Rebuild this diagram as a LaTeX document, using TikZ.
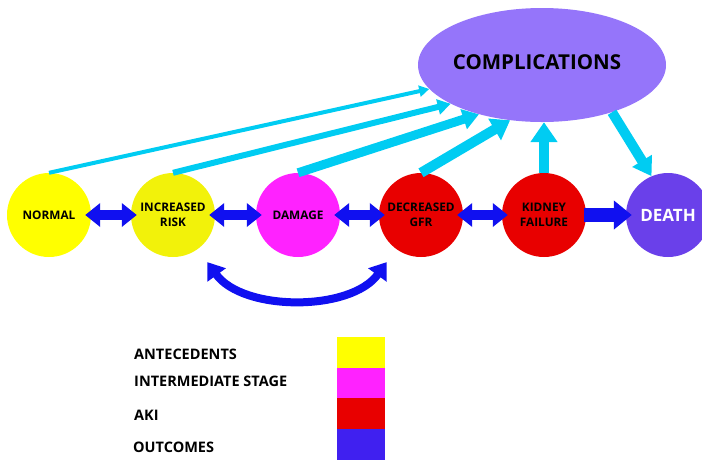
\documentclass[tikz,border=0pt]{standalone}
\usepackage{fontspec}
\setmainfont{Open Sans}
\usetikzlibrary{arrows.meta,shapes.geometric}
\definecolor{cyel}{HTML}{FFFF00}
\definecolor{cyel2}{HTML}{F2F20A}
\definecolor{cmag}{HTML}{FF22FF}
\definecolor{cred}{HTML}{E80000}
\definecolor{cdeath}{HTML}{6A40EA}
\definecolor{cout}{HTML}{4020F0}
\definecolor{cellip}{HTML}{9575FA}
\definecolor{ccyan}{HTML}{00CCF2}
\definecolor{cblue}{HTML}{1010F0}
\begin{document}
\begin{tikzpicture}[x=1pt,y=-1pt,
  stage/.style={circle, minimum size=84pt, inner sep=0pt, align=center,
    font=\bfseries\fontsize{11.8}{14.5}\selectfont},
  dbl/.style={draw=cblue, line width=10pt,
    {Triangle[length=15pt,width=23pt]}-{Triangle[length=15pt,width=23pt]},
    shorten <=-6pt, shorten >=-6pt},
  cyarrow/.style n args={3}{draw=ccyan, line width=#1,
    -{Triangle[length=#2,width=#3]}},
  legtext/.style={anchor=west, inner sep=0pt, font=\bfseries\fontsize{14.5}{17}\selectfont},
  legbox/.style={anchor=north west, inner sep=0pt, minimum width=48pt, minimum height=#1}
]
\useasboundingbox (0,0) rectangle (702,459);

% complications
\node[ellipse, fill=cellip, minimum width=248pt, minimum height=114pt, inner sep=0pt] (comp) at (542,65) {};
\node[font=\bfseries\fontsize{20.5}{24}\selectfont] (comptext) at (537,62) {COMPLICATIONS};

% stages
\node[stage, fill=cyel] (normal) at (49,215) {NORMAL};
\node[stage, fill=cyel2] (inc) at (173,215) {INCREASED\\RISK};
\node[stage, fill=cmag] (dam) at (298,215) {DAMAGE};
\node[stage, fill=cred] (gfr) at (421,215) {DECREASED\\GFR};
\node[stage, fill=cred] (kid) at (544,215) {KIDNEY\\FAILURE};
\node[stage, fill=cdeath, text=white, font=\bfseries\fontsize{17}{20}\selectfont] (death) at (668,215) {DEATH};

% blue double arrows
\draw[dbl] (normal.east) -- (inc.west);
\draw[dbl] (inc.east) -- (dam.west);
\draw[dbl] (dam.east) -- (gfr.west);
\draw[dbl] (gfr.east) -- (kid.west);
\draw[draw=cblue, line width=14pt, -{Triangle[length=18pt,width=28pt]},
  shorten <=-2pt, shorten >=-6pt] (kid.east) -- (death.west);

% curved arrow
\draw[draw=cblue, line width=8pt,
  {Triangle[length=16pt,width=22pt]}-{Triangle[length=16pt,width=22pt]},
  shorten <=16pt, shorten >=16pt]
  (inc.-54) to[out=-54, in=-126] (gfr.-126);

% cyan arrows to complications
\draw[cyarrow={4pt}{10pt}{11pt}] (normal.north) -- (comp.192);
\draw[cyarrow={6pt}{13pt}{15pt}] (inc.north) -- (comp.203);
\draw[cyarrow={9pt}{16pt}{20pt}] (dam.north) -- (comp.218);
\draw[cyarrow={10pt}{18pt}{24pt}] (gfr.north) -- (comp.240);
\draw[cyarrow={10pt}{20pt}{26pt}] (kid.north) -- (kid.north |- comp.south);
\draw[cyarrow={10pt}{18pt}{22pt}] (comp.-34) -- (death.113);

% legend
\node[legbox=31pt, fill=cyel] (lb1) at (337,337) {};
\node[legbox=31pt, fill=cmag] (lb2) at (337,368) {};
\node[legbox=31pt, fill=cred] (lb3) at (337,398) {};
\node[legbox=31pt, fill=cout] (lb4) at (337,429) {};
\node[legtext] (lt1) at (134,354) {ANTECEDENTS};
\node[legtext] (lt2) at (134,381) {INTERMEDIATE STAGE};
\node[legtext] (lt3) at (134,415) {AKI};
\node[legtext] (lt4) at (133,447) {OUTCOMES};
\end{tikzpicture}
\end{document}
